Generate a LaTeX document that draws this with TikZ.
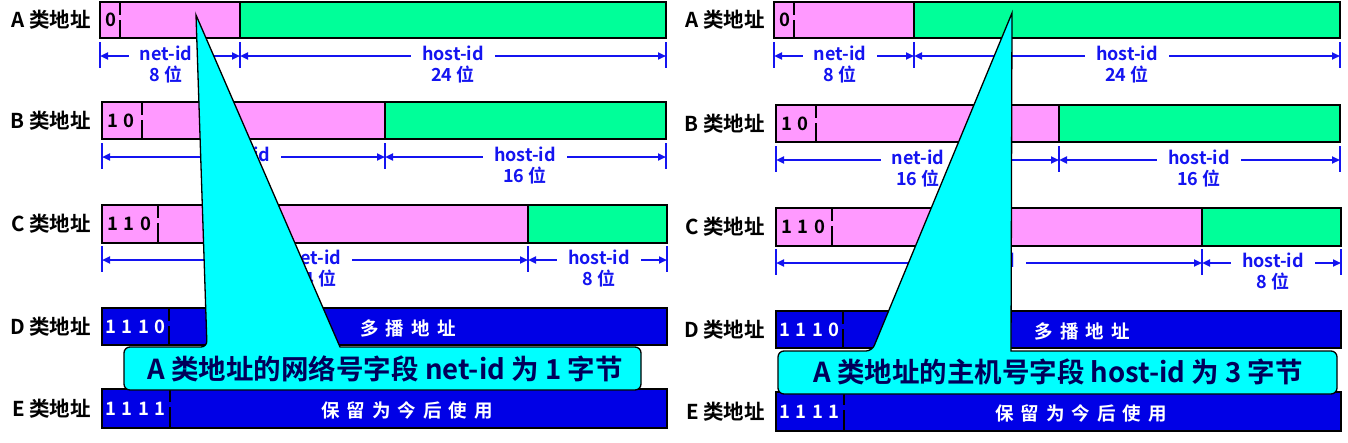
\documentclass[tikz,border=0pt]{standalone}
\usepackage{fontspec}
\setmainfont{Noto Sans CJK SC}[BoldFont={Noto Sans CJK SC Bold}]
\usetikzlibrary{arrows.meta}
\definecolor{pinkc}{RGB}{255,153,255}
\definecolor{greenc}{RGB}{0,255,153}
\definecolor{bluebox}{RGB}{0,0,230}
\definecolor{dimblue}{RGB}{20,20,240}
\definecolor{navyc}{RGB}{0,0,90}
\definecolor{cyanc}{RGB}{0,255,255}
\newcommand\bitgap{\hspace{0.3em}}
\newcommand\cjkgap{\hspace{7pt}}
\tikzset{
 boxline/.style={draw=black, line width=2.5pt},
 sepline/.style={draw=black, line width=1.8pt, dash pattern=on 12pt off 5pt on 40pt},
 rowlab/.style={anchor=east, font=\bfseries\fontsize{20.5}{20.5}\selectfont, inner sep=0pt},
 bits/.style={anchor=west, font=\bfseries\fontsize{18.5}{18.5}\selectfont, inner sep=0pt},
 wbits/.style={bits, text=white},
 wtext/.style={font=\bfseries\fontsize{18.5}{18.5}\selectfont, text=white, inner sep=0pt},
 dimtxt/.style={anchor=base, font=\bfseries\fontsize{18}{18}\selectfont, text=dimblue, inner xsep=11pt, inner ysep=0pt},
 subtxt/.style={anchor=base, font=\bfseries\fontsize{18}{18}\selectfont, text=dimblue, inner sep=0pt},
 tickline/.style={draw=dimblue, line width=1.5pt},
 dimarrow/.style={draw=dimblue, line width=2pt, -{Triangle[length=8pt,width=7pt]}},
 callout/.style={fill=cyanc, draw=black, line width=1.3pt, line join=miter},
 calltxt/.style={font=\bfseries\fontsize{27.5}{27.5}\selectfont, text=navyc, inner sep=0pt},
}
% ticks: y, x1, x2, x3
\newcommand\dimticks[4]{%
 \draw[tickline] (#2,#1-14) -- (#2,#1+12);
 \draw[tickline] (#3,#1-14) -- (#3,#1+12);
 \draw[tickline] (#4,#1-14) -- (#4,#1+12);
}
% dim row: name, y, x1, x2, text x, label, sub
\newcommand\dimrow[7]{%
 \coordinate (#1-l) at (#3,#2);
 \coordinate (#1-r) at (#4,#2);
 \node[dimtxt] (#1-t) at (#5,#2+4) {#6};
 \node[subtxt] (#1-s) at (#5,#2+25) {#7};
 \draw[dimarrow] (#1-t.west |- #1-l) -- (#1-l);
 \draw[dimarrow] (#1-t.east |- #1-r) -- (#1-r);
}
\newcommand\panel[1]{%
 % Row A
 \node[rowlab] (labA) at (91,20) {A 类地址};
 \fill[pinkc] (100,2) rectangle (240,38);
 \fill[greenc] (240,2) rectangle (666,38);
 \draw[boxline] (240,2) -- (240,38);
 \draw[boxline] (100,2) rectangle (666,38);
 \draw[sepline] (120,3) -- (120,37);
 \node[bits] (bitA) at (105,20) {0};
 \dimticks{56}{100}{240}{666}
 \dimrow{dA1}{56}{100}{240}{166}{net-id}{8 位}
 \dimrow{dA2}{56}{240}{666}{453}{host-id}{24 位}
 \begin{scope}[shift={(0,#1)}]
 % Row B
 \node[rowlab] (labB) at (91,121) {B 类地址};
 \fill[pinkc] (102,102) rectangle (385,139);
 \fill[greenc] (385,102) rectangle (666,139);
 \draw[boxline] (385,102) -- (385,139);
 \draw[boxline] (102,102) rectangle (666,139);
 \draw[sepline] (142,103) -- (142,138);
 \node[bits] (bitB) at (107,121) {1\bitgap0};
 \dimticks{157}{102}{385}{666}
 \dimrow{dB1}{157}{102}{385}{244}{net-id}{16 位}
 \dimrow{dB2}{157}{385}{666}{525}{host-id}{16 位}
 % Row C
 \node[rowlab] (labC) at (91,224) {C 类地址};
 \fill[pinkc] (102,205) rectangle (528,243);
 \fill[greenc] (528,205) rectangle (667,243);
 \draw[boxline] (528,205) -- (528,243);
 \draw[boxline] (102,205) rectangle (667,243);
 \draw[sepline] (158,206) -- (158,242);
 \node[bits] (bitC) at (107,224) {1\bitgap1\bitgap0};
 \dimticks{260}{102}{528}{667}
 \dimrow{dC1}{260}{102}{528}{315}{net-id}{24 位}
 \dimrow{dC2}{260}{528}{667}{599}{host-id}{8 位}
 % Row D
 \node[rowlab] (labD) at (91,327) {D 类地址};
 \fill[bluebox] (102,308) rectangle (667,345);
 \draw[boxline] (102,308) rectangle (667,345);
 \draw[sepline] (169,309) -- (169,344);
 \node[wbits] (bitD) at (105,327) {1\bitgap1\bitgap1\bitgap0};
 \node[wtext] (txtD) at (408,328) {多\cjkgap 播\cjkgap 地\cjkgap 址};
 % Row E
 \node[rowlab] (labE) at (91,409) {E 类地址};
 \fill[bluebox] (102,389) rectangle (667,428);
 \draw[boxline] (102,389) rectangle (667,428);
 \draw[sepline] (170,390) -- (170,427);
 \node[wbits] (bitE) at (105,409) {1\bitgap1\bitgap1\bitgap1};
 \node[wtext] (txtE) at (407,410) {保\cjkgap 留\cjkgap 为\cjkgap 今\cjkgap 后\cjkgap 使\cjkgap 用};
 \end{scope}
}
\begin{document}
\begin{tikzpicture}[x=1pt,y=-1pt]
\useasboundingbox (0,0) rectangle (1348,442);
\begin{scope}[name prefix=L-]
 \panel{0}
\end{scope}
\begin{scope}[shift={(674,0)}, name prefix=R-]
 \panel{3}
\end{scope}
% left callout
\draw[callout] (124,368) [rounded corners=6pt] -- (124,347) -- (207,347) [sharp corners] -- (196,15) -- (340,347) [rounded corners=6pt] -- (641,347) -- (641,390) -- (124,390) -- cycle;
\node[calltxt] (callL) at (385,369) {A 类地址的网络号字段 net-id 为 1 字节};
% right callout
\draw[callout] (778,372) [rounded corners=6pt] -- (778,351) -- (872,351) [sharp corners] -- (1012,13) -- (1011,351) [rounded corners=6pt] -- (1337,351) -- (1337,394) -- (778,394) -- cycle;
\node[calltxt] (callR) at (1058,372) {A 类地址的主机号字段 host-id 为 3 字节};
\end{tikzpicture}
\end{document}
